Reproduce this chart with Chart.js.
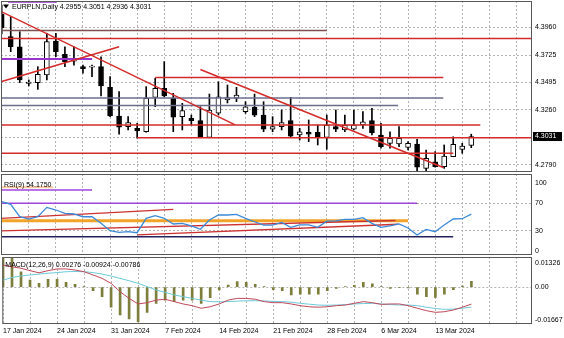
<!DOCTYPE html>
<html>
<head>
<meta charset="utf-8">
<script src="https://cdn.jsdelivr.net/npm/chart.js@4.4.1/dist/chart.umd.min.js"></script>
<style>
  html, body { margin: 0; padding: 0; background: #fff; }
  #wrap { position: relative; width: 564px; height: 338px; overflow: hidden; }
  canvas { position: absolute; left: 0; }
  #price { top: 0; }
  #rsi { top: 173px; }
  #macd { top: 256px; }
</style>
</head>
<body>
<div id="wrap">
  <canvas id="price" width="564" height="173"></canvas>
  <canvas id="rsi" width="564" height="83"></canvas>
  <canvas id="macd" width="564" height="82"></canvas>
</div>
<script>
const FONT = '"Liberation Sans", Arial, sans-serif';
Chart.defaults.font.family = FONT;
Chart.defaults.font.size = 7;
Chart.defaults.color = "#000";
Chart.defaults.animation = false;

// EURPLN daily, one entry per bar (the broker also prints Sunday bars)
const dateTicks = ["17 Jan 2024", "24 Jan 2024", "31 Jan 2024", "7 Feb 2024", "14 Feb 2024",
  "21 Feb 2024", "28 Feb 2024", "6 Mar 2024", "13 Mar 2024"];

const opens = [4.4075, 4.3882, 4.3796, 4.3484, 4.3490, 4.3555, 4.3845, 4.3732, 4.3673, 4.3626,
  4.3622, 4.3626, 4.3450, 4.3206, 4.3115, 4.3101, 4.3072, 4.3365, 4.3442, 4.3357,
  4.3200, 4.3186, 4.3166, 4.3024, 4.3229, 4.3342, 4.3357, 4.3243, 4.3280, 4.3214,
  4.3093, 4.3115, 4.3166, 4.3044, 4.3067, 4.3067, 4.3024, 4.3115, 4.3087, 4.3093,
  4.3129, 4.3166, 4.3044, 4.2973, 4.2967, 4.2939, 4.2967, 4.2760, 4.2816, 4.2774,
  4.2859, 4.2922, 4.2955];
const highs = [4.4152, 4.4052, 4.3924, 4.3513, 4.3626, 4.3911, 4.3911, 4.3796, 4.3796, 4.3640,
  4.3640, 4.3711, 4.3541, 4.3413, 4.3200, 4.3144, 4.3456, 4.3527, 4.3669, 4.3399,
  4.3314, 4.3214, 4.3285, 4.3393, 4.3498, 4.3470, 4.3450, 4.3328, 4.3393, 4.3328,
  4.3200, 4.3257, 4.3365, 4.3101, 4.3172, 4.3129, 4.3214, 4.3257, 4.3214, 4.3257,
  4.3243, 4.3272, 4.3144, 4.3072, 4.3115, 4.2987, 4.3007, 4.2916, 4.2902, 4.2959,
  4.3029, 4.2973, 4.3051];
const lows = [4.3905, 4.3754, 4.3490, 4.3462, 4.3433, 4.3513, 4.3711, 4.3626, 4.3640, 4.3570,
  4.3541, 4.3376, 4.3200, 4.3052, 4.3087, 4.3016, 4.3068, 4.3285, 4.3370, 4.3072,
  4.3087, 4.3129, 4.3027, 4.3020, 4.3214, 4.3317, 4.3328, 4.3229, 4.3200, 4.3072,
  4.3072, 4.3087, 4.3024, 4.3001, 4.2987, 4.2959, 4.2922, 4.3072, 4.3072, 4.3087,
  4.3101, 4.3044, 4.2931, 4.2931, 4.2944, 4.2916, 4.2737, 4.2740, 4.2769, 4.2760,
  4.2859, 4.2888, 4.2936];
const closes = [4.3956, 4.3796, 4.3513, 4.3494, 4.3561, 4.3839, 4.3754, 4.3669, 4.3683, 4.3609,
  4.3630, 4.3462, 4.3206, 4.3110, 4.3149, 4.3078, 4.3357, 4.3442, 4.3376, 4.3195,
  4.3251, 4.3166, 4.3029, 4.3257, 4.3370, 4.3362, 4.3385, 4.3285, 4.3214, 4.3093,
  4.3115, 4.3149, 4.3035, 4.3072, 4.3050, 4.3024, 4.3129, 4.3093, 4.3129, 4.3129,
  4.3157, 4.3064, 4.2944, 4.3016, 4.3016, 4.2973, 4.2770, 4.2845, 4.2774, 4.2865,
  4.2965, 4.2950, 4.3031];

const rsi = [72.3, 68.5, 50.4, 47, 50.4, 64, 60.2, 55.4, 54.4, 50.4,
  50.4, 40.8, 30, 27.7, 28.6, 27.1, 48.1, 51.9, 48.1, 39.8,
  40.8, 36.9, 32.1, 45.6, 52.9, 52.9, 53.9, 48.1, 43.1, 38.3,
  38.3, 42, 35, 38.5, 38.5, 35, 44, 44.5, 46.5, 46.5,
  49, 40.8, 35, 37, 40, 34, 23.8, 32, 28.6, 38.3,
  47.1, 47.5, 54.175];

const macdMain = [0.0103, 0.0095, 0.0088, 0.0077, 0.0067, 0.0077, 0.0085, 0.0085, 0.0080, 0.0072,
  0.0057, 0.0041, 0.0018, -0.0021, -0.0052, -0.0078, -0.0072, -0.0060, -0.0056, -0.0067,
  -0.0078, -0.0086, -0.0098, -0.0091, -0.0078, -0.0060, -0.0052, -0.0052, -0.0056, -0.0067,
  -0.0072, -0.0072, -0.0078, -0.0086, -0.0091, -0.0093, -0.0091, -0.0086, -0.0083, -0.0075,
  -0.0067, -0.0072, -0.0080, -0.0078, -0.0078, -0.0086, -0.0098, -0.0109, -0.0117, -0.0114,
  -0.0106, -0.0093, -0.00786];
const macdSignal = [0.0033, 0.0045, 0.0052, 0.0057, 0.0061, 0.0065, 0.0068, 0.0072, 0.0073, 0.0072,
  0.0068, 0.0061, 0.0052, 0.0041, 0.0030, 0.0018, 0.0003, -0.0013, -0.0024, -0.0036,
  -0.0044, -0.0052, -0.0060, -0.0067, -0.0068, -0.0067, -0.0065, -0.0063, -0.0063, -0.0064,
  -0.0066, -0.0067, -0.0070, -0.0075, -0.0079, -0.0083, -0.0084, -0.0083, -0.0081, -0.0078,
  -0.0076, -0.0075, -0.0078, -0.0081, -0.0083, -0.0083, -0.0086, -0.0093, -0.0099, -0.0103,
  -0.0102, -0.0098, -0.00924];
const macdHist = [0.0140, 0.0150, 0.0072, 0.0033, 0.0018, 0.0037, 0.0037, 0.0023, 0.0013, 0.0002,
  -0.0016, -0.0044, -0.0093, -0.0129, -0.0148, -0.0160, -0.0117, -0.0075, -0.0060, -0.0067,
  -0.0060, -0.0060, -0.0075, -0.0049, -0.0013, 0.0010, 0.0026, 0.0023, 0.0013, 0.0002,
  -0.0012, -0.0016, -0.0036, -0.0033, -0.0033, -0.0033, -0.0016, -0.0006, 0.0002, 0.0009,
  0.0023, 0.0016, 0.0002, -0.0006, -0.0002, -0.0003, -0.0033, -0.0044, -0.0047, -0.0033,
  -0.0012, 0.0005, 0.00276];

// scale levels
const priceTicks = [4.3960, 4.3725, 4.3495, 4.3260, 4.3025, 4.2790];
const rsiLevels = [70, 30];
const rsiScale = [100, 70, 30, 0];
const macdScale = [0.01326, 0, -0.01667];

// hand drawn objects: [bar0, value0, bar1, value1]
const priceRedLines = [
  [-1, 4.3866, 60, 4.3866],
  [17, 4.3534, 48.9, 4.3534],
  [-1, 4.3129, 53, 4.3129],
  [15, 4.3021, 60, 4.3021],
  [-1, 4.2888, 50, 4.2888],
  [-0.2, 4.4101, 25.8, 4.3133],
  [22, 4.3602, 48.9, 4.2767],
  [0, 4.3500, 13, 4.3796],
];
const priceSlateLines = [[-1, 4.3359, 48.9, 4.3359], [-1, 4.3295, 43.9, 4.3295]];
const priceMaroonLines = [[-1, 4.3934, 36, 4.3934]];
const pricePurpleLines = [[-1, 4.3692, 10, 4.3692], [0.7, 4.4180, 6.1, 4.4180]];

const rsiPurpleLines = [[-1, 70, 46, 70], [0, 89.4, 10, 89.4]];
const rsiPeachLines = [[0, 93.3, 5.7, 93.3]];
const rsiOrangeLines = [[-1, 44.6, 45, 44.6]];
const rsiNavyLines = [[-1, 21.3, 50, 21.3]];
const rsiRedLines = [[-0.2, 47.8, 19, 61.2], [-0.2, 29.6, 43.6, 44.9], [15, 23.8, 43.9, 39.4]];

const bars = opens.map((_, i) => i);
const last = bars.length - 1;
const X_MIN = -0.078;
const X_MAX = X_MIN + 531 / 9.03;
const GRID = "#b4b4b4";

function segments(list, color, width, order) {
  return list.map(([x0, y0, x1, y1]) => ({
    type: "line",
    data: [{ x: x0, y: y0 }, { x: x1, y: y1 }],
    borderColor: color,
    borderWidth: width,
    pointRadius: 0,
    clip: 0,
    order,
  }));
}

// frame, right-hand scale labels and the panel caption
const panelDecor = {
  id: "panelDecor",
  afterDatasetsDraw(chart, args, opts) {
    const { ctx, chartArea: a } = chart;
    const y = chart.scales.y;
    ctx.save();
    ctx.strokeStyle = "#585858";
    ctx.lineWidth = 1;
    ctx.strokeRect(a.left + 0.5, a.top + 0.5, a.right - a.left - 1, a.bottom - a.top - 1);

    ctx.font = `7px ${FONT}`;
    ctx.textBaseline = "middle";
    ctx.textAlign = "left";
    ctx.fillStyle = "#000";
    opts.values.forEach((v) => {
      const py = Math.min(Math.max(y.getPixelForValue(v), a.top + 6), a.bottom - 4);
      ctx.fillText(opts.format(v), a.right + 3, py);
    });

    if (opts.tag != null) {
      const py = y.getPixelForValue(opts.tag);
      ctx.fillStyle = "#000";
      ctx.fillRect(a.right + 1, py - 4.5, 29, 9);
      ctx.fillStyle = "#fff";
      ctx.fillText(opts.tag.toFixed(4), a.right + 3, py);
    }

    ctx.fillStyle = "#000";
    let tx = a.left + 3;
    if (opts.arrow) {
      ctx.beginPath();
      ctx.moveTo(a.left + 2, a.top + 3.5);
      ctx.lineTo(a.left + 8, a.top + 3.5);
      ctx.lineTo(a.left + 5, a.top + 7.5);
      ctx.closePath();
      ctx.fill();
      tx = a.left + 11;
    }
    ctx.fillText(opts.caption, tx, a.top + opts.captionY);
    ctx.restore();
  },
};
Chart.register(panelDecor);

function paneOptions({ yMin, yMax, grid, padTop, padBottom, dates, decor }) {
  return {
    responsive: false,
    layout: { padding: { left: 1, right: 0, top: padTop, bottom: padBottom } },
    plugins: {
      legend: { display: false },
      tooltip: { enabled: false },
      panelDecor: decor,
    },
    scales: {
      x: {
        type: "linear",
        min: X_MIN,
        max: X_MAX,
        offset: false,
        afterBuildTicks: (s) => {
          const t = [];
          for (let v = 0; v <= X_MAX; v += 3) t.push({ value: v });
          s.ticks = t;
        },
        afterFit: (s) => { s.height = dates ? 14 : 0; },
        grid: { color: GRID, drawTicks: false, offset: false },
        border: { display: false, dash: [2, 2] },
        ticks: {
          display: dates,
          autoSkip: false,
          maxRotation: 0,
          align: "start",
          padding: 3,
          color: "#000",
          font: { size: 7 },
          callback: (v) => (v % 6 === 0 && dateTicks[v / 6]) || "",
        },
      },
      y: {
        position: "right",
        min: yMin,
        max: yMax,
        afterBuildTicks: (s) => { s.ticks = grid.map((v) => ({ value: v })); },
        afterFit: (s) => { s.width = 32; },
        grid: { color: GRID, drawTicks: false },
        border: { display: false, dash: [2, 2] },
        ticks: { display: false },
      },
    },
  };
}

// price pane: candles built from floating bars
new Chart(document.getElementById("price"), {
  type: "bar",
  data: {
    datasets: [
      ...segments(priceRedLines, "#d42a2a", 1.5, 0),
      ...segments(priceSlateLines, "#6c6c8c", 1.5, 0),
      ...segments(priceMaroonLines, "#7e5050", 1.5, 0),
      ...segments(pricePurpleLines, "#9a36d0", 2, 0),
      {
        label: "body",
        data: bars.map((i) => ({ x: i, y: [opens[i], closes[i]] })),
        backgroundColor: bars.map((i) => (closes[i] >= opens[i] ? "#fff" : "#000")),
        borderColor: "#000",
        borderWidth: 1,
        borderSkipped: false,
        barThickness: 5,
        minBarLength: 1,
        grouped: false,
        clip: 0,
        order: 5,
      },
      {
        label: "wick",
        data: bars.map((i) => ({ x: i, y: [lows[i], highs[i]] })),
        backgroundColor: "#000",
        barThickness: 1,
        grouped: false,
        clip: 0,
        order: 6,
      },
    ],
  },
  options: paneOptions({
    yMin: 4.27287,
    yMax: 4.41858,
    grid: priceTicks,
    padTop: 1,
    padBottom: 1,
    dates: false,
    decor: {
      values: priceTicks.filter((v) => Math.abs(v - closes[last]) > 0.001),
      format: (v) => v.toFixed(4),
      tag: closes[last],
      arrow: true,
      caption: `EURPLN,Daily ${opens[last].toFixed(4)} ${highs[last].toFixed(4)} ${lows[last].toFixed(4)} ${closes[last].toFixed(4)}`,
      captionY: 6,
    },
  }),
});

// RSI pane
new Chart(document.getElementById("rsi"), {
  type: "line",
  data: {
    datasets: [
      {
        data: bars.map((i) => ({ x: i, y: rsi[i] })),
        borderColor: "#3a8ad8",
        borderWidth: 1.3,
        pointRadius: 0,
        tension: 0,
        clip: 0,
        order: 0,
      },
      ...segments(rsiOrangeLines, "#f2a428", 3, 2),
      ...segments(rsiPurpleLines, "#a044e0", 1.5, 1),
      ...segments(rsiPeachLines, "#f6c9a0", 2, 1),
      ...segments(rsiNavyLines, "#22225e", 1.5, 1),
      ...segments(rsiRedLines, "#cc3030", 1.3, 1),
    ],
  },
  options: paneOptions({
    yMin: -5.4,
    yMax: 112.7,
    grid: rsiLevels,
    padTop: 1,
    padBottom: 1,
    dates: false,
    decor: {
      values: rsiScale,
      format: (v) => String(v),
      caption: `RSI(9) ${rsi[last].toFixed(4)}`,
      captionY: 11,
    },
  }),
});

// MACD pane
new Chart(document.getElementById("macd"), {
  type: "bar",
  data: {
    datasets: [
      {
        type: "line",
        data: bars.map((i) => ({ x: i, y: macdMain[i] })),
        borderColor: "#c0485a",
        borderWidth: 1,
        pointRadius: 0,
        clip: 0,
        order: 0,
      },
      {
        type: "line",
        data: bars.map((i) => ({ x: i, y: macdSignal[i] })),
        borderColor: "#6ccad8",
        borderWidth: 1,
        pointRadius: 0,
        clip: 0,
        order: 1,
      },
      {
        data: bars.map((i) => ({ x: i, y: macdHist[i] })),
        backgroundColor: "#7d7d3c",
        barThickness: 2,
        grouped: false,
        clip: 0,
        order: 3,
      },
    ],
  },
  options: paneOptions({
    yMin: -0.01712,
    yMax: 0.01405,
    grid: [0],
    padTop: 1,
    padBottom: 0,
    dates: true,
    decor: {
      values: macdScale,
      format: (v) => (v === 0 ? "0.00" : v.toFixed(5)),
      caption: `MACD(12,26,9) ${macdHist[last].toFixed(5)} ${macdSignal[last].toFixed(5)} ${macdMain[last].toFixed(5)}`,
      captionY: 8,
    },
  }),
});
</script>
</body>
</html>
